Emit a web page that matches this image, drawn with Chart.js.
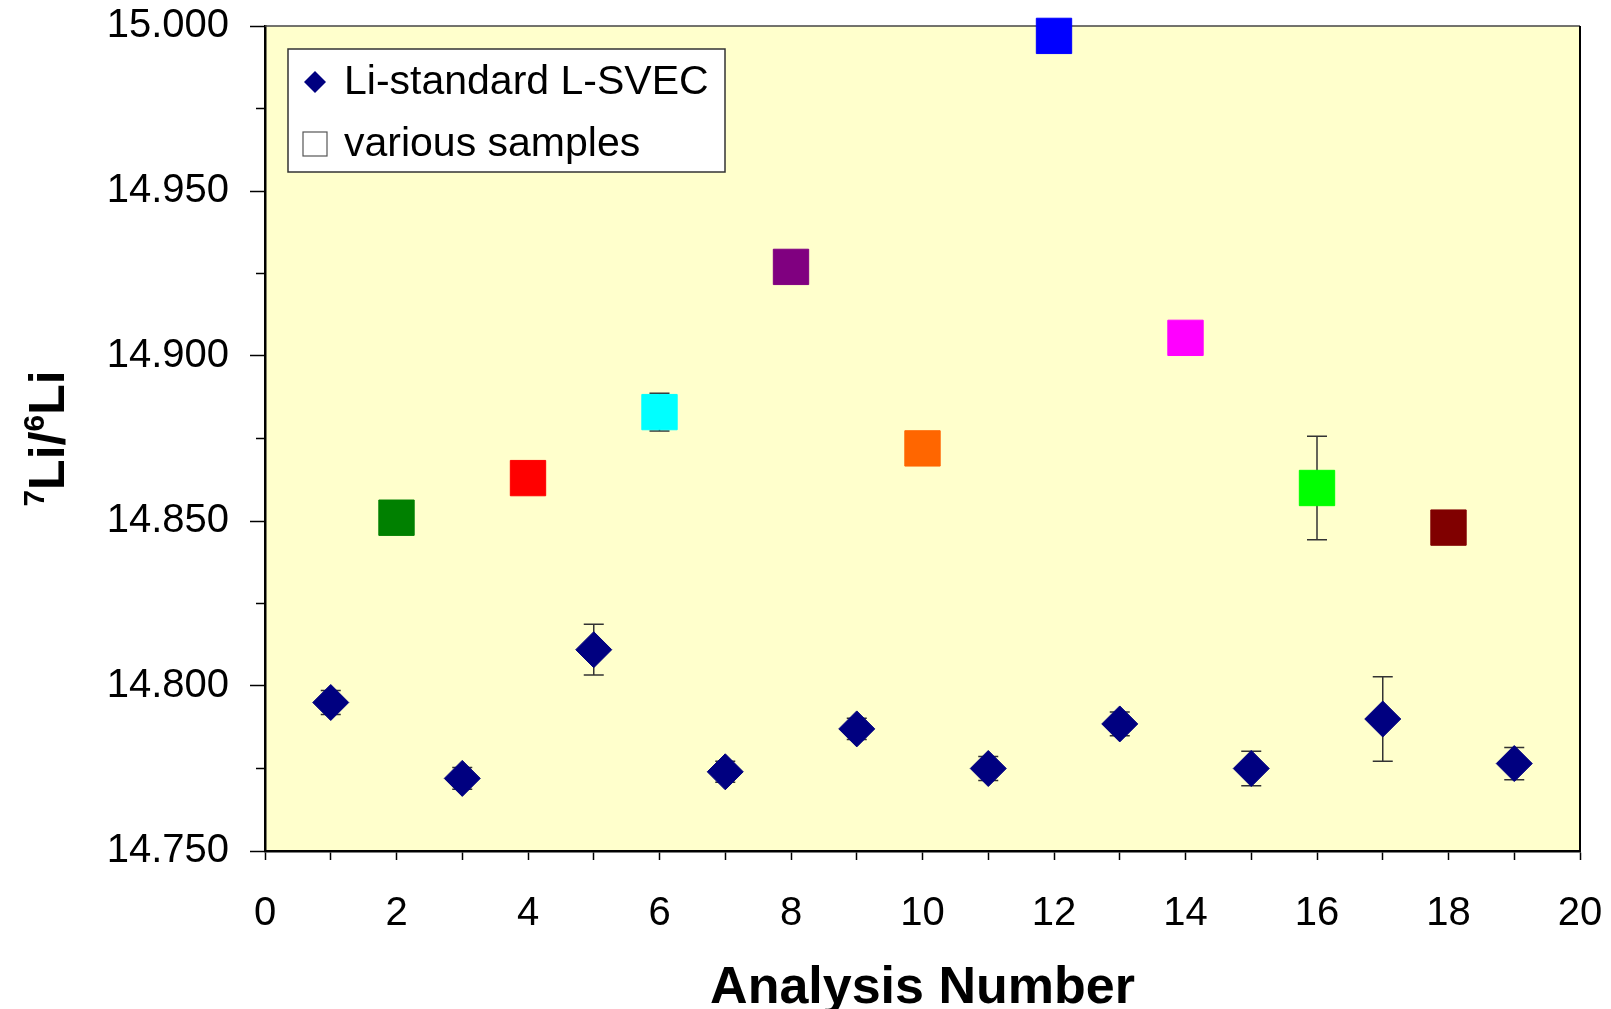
<!DOCTYPE html>
<html>
<head>
<meta charset="utf-8">
<script src="https://cdn.jsdelivr.net/npm/chart.js@4/dist/chart.umd.min.js"></script>
<style>
  html, body { margin: 0; padding: 0; background: #ffffff; }
  canvas { display: block; }
</style>
</head>
<body>
<canvas id="chart" width="1611" height="1009"></canvas>
<script>
// Li-standard L-SVEC runs (odd analysis numbers)
const standardX   = [1, 3, 5, 7, 9, 11, 13, 15, 17, 19];
const standardY   = [14.795, 14.772, 14.811, 14.774, 14.787, 14.775, 14.7885, 14.775, 14.790, 14.7765];
const standardErr = [0.0036, 0.0033, 0.0077, 0.0032, 0.0032, 0.0036, 0.0036, 0.0052, 0.0128, 0.0049];

// Various samples (even analysis numbers)
const sampleX     = [2, 4, 6, 8, 10, 12, 14, 16, 18];
const sampleY     = [14.851, 14.863, 14.883, 14.927, 14.872, 14.997, 14.9055, 14.860, 14.848];
const sampleErr   = [0, 0, 0.0057, 0, 0, 0, 0, 0.0157, 0];
const sampleColors = ['#008000', '#FF0000', '#00FFFF', '#800080', '#FF6600', '#0000FF', '#FF00FF', '#00FF00', '#800000'];

const legendLabels = ['Li-standard L-SVEC', 'various samples'];
const xTitle = 'Analysis Number';
// y title pieces: [text, superscript?]
const yTitleParts = [['7', true], ['Li/', false], ['6', true], ['Li', false]];

const FONT = '"Liberation Sans", Arial, Helvetica, sans-serif';
const NAVY = '#000080';

// Plot background
const plotBackground = {
  id: 'plotBackground',
  beforeDraw(chart) {
    const { ctx, chartArea: a } = chart;
    ctx.save();
    ctx.fillStyle = '#FFFFCC';
    ctx.fillRect(a.left, a.top, a.right - a.left, a.bottom - a.top);
    ctx.restore();
  }
};

// Frame, minor ticks and error bars, drawn under the markers
const underlay = {
  id: 'underlay',
  beforeDatasetsDraw(chart) {
    const { ctx, chartArea: a, scales } = chart;
    ctx.save();
    // top and right frame
    ctx.strokeStyle = '#444444';
    ctx.lineWidth = 1.5;
    ctx.beginPath();
    ctx.moveTo(a.left, a.top);
    ctx.lineTo(a.right, a.top);
    ctx.stroke();
    ctx.strokeStyle = '#000000';
    ctx.lineWidth = 2;
    ctx.beginPath();
    ctx.moveTo(a.right, a.top);
    ctx.lineTo(a.right, a.bottom);
    ctx.stroke();

    // minor y ticks halfway between labelled ticks
    const yt = scales.y.ticks;
    ctx.strokeStyle = '#000000';
    ctx.lineWidth = 1.5;
    for (let i = 0; i < yt.length - 1; i++) {
      const py = scales.y.getPixelForValue((yt[i].value + yt[i + 1].value) / 2);
      ctx.beginPath();
      ctx.moveTo(a.left - 9, py);
      ctx.lineTo(a.left, py);
      ctx.stroke();
    }

    // error bars
    ctx.strokeStyle = '#333333';
    ctx.lineWidth = 1.5;
    chart.data.datasets.forEach((ds, di) => {
      const meta = chart.getDatasetMeta(di);
      meta.data.forEach((pt, i) => {
        const err = ds.errors[i];
        if (!err) return;
        const v = ds.data[i].y;
        const yTop = scales.y.getPixelForValue(v + err);
        const yBot = scales.y.getPixelForValue(v - err);
        const x = pt.x;
        ctx.beginPath();
        ctx.moveTo(x, yTop); ctx.lineTo(x, yBot);
        ctx.moveTo(x - 10, yTop); ctx.lineTo(x + 10, yTop);
        ctx.moveTo(x - 10, yBot); ctx.lineTo(x + 10, yBot);
        ctx.stroke();
      });
    });
    ctx.restore();
  }
};

// Legend box in the upper left of the plot, and the y-axis title with superscripts
const overlay = {
  id: 'overlay',
  afterDraw(chart) {
    const { ctx, chartArea: a } = chart;
    ctx.save();
    const bx = a.left + 23, by = a.top + 23, bw = 437, bh = 123;
    ctx.fillStyle = '#FFFFFF';
    ctx.fillRect(bx, by, bw, bh);
    ctx.strokeStyle = '#333333';
    ctx.lineWidth = 1.5;
    ctx.strokeRect(bx, by, bw, bh);

    // diamond key
    const dx = bx + 27, dy = by + 33, dr = 11;
    ctx.fillStyle = NAVY;
    ctx.beginPath();
    ctx.moveTo(dx - dr, dy); ctx.lineTo(dx, dy - dr); ctx.lineTo(dx + dr, dy); ctx.lineTo(dx, dy + dr);
    ctx.closePath();
    ctx.fill();

    // open square key
    ctx.fillStyle = '#FFFFFF';
    ctx.fillRect(bx + 15, by + 83, 24, 24);
    ctx.strokeStyle = '#555555';
    ctx.lineWidth = 1.2;
    ctx.strokeRect(bx + 15, by + 83, 24, 24);

    ctx.fillStyle = '#000000';
    ctx.font = '41px ' + FONT;
    ctx.textAlign = 'left';
    ctx.textBaseline = 'middle';
    ctx.fillText(legendLabels[0], bx + 56, by + 34);
    ctx.fillText(legendLabels[1], bx + 56, by + 96);

    // y-axis title
    ctx.translate(64, (a.top + a.bottom) / 2);
    ctx.rotate(-Math.PI / 2);
    ctx.textBaseline = 'alphabetic';
    const fontFor = sup => 'bold ' + (sup ? 30 : 50) + 'px ' + FONT;
    let total = 0;
    yTitleParts.forEach(([t, sup]) => { ctx.font = fontFor(sup); total += ctx.measureText(t).width; });
    let x = -total / 2;
    yTitleParts.forEach(([t, sup]) => {
      ctx.font = fontFor(sup);
      ctx.fillText(t, x, sup ? -20 : 0);
      x += ctx.measureText(t).width;
    });
    ctx.restore();
  }
};

const toPoints = (xs, ys) => xs.map((x, i) => ({ x: x, y: ys[i] }));

new Chart(document.getElementById('chart'), {
  type: 'scatter',
  data: {
    datasets: [
      {
        label: legendLabels[0],
        data: toPoints(standardX, standardY),
        errors: standardErr,
        pointStyle: 'rectRot',
        pointRadius: 18,
        pointHoverRadius: 18,
        pointBackgroundColor: NAVY,
        pointBorderColor: NAVY,
        pointBorderWidth: 1,
        showLine: false,
        clip: false
      },
      {
        label: legendLabels[1],
        data: toPoints(sampleX, sampleY),
        errors: sampleErr,
        pointStyle: 'rect',
        pointRadius: 25,
        pointHoverRadius: 25,
        pointBackgroundColor: sampleColors,
        pointBorderColor: sampleColors,
        pointBorderWidth: 1,
        showLine: false,
        clip: false
      }
    ]
  },
  options: {
    responsive: false,
    animation: false,
    events: [],
    layout: { padding: { left: 0, top: 26, right: 31, bottom: 0 } },
    plugins: {
      legend: { display: false },
      tooltip: { enabled: false }
    },
    scales: {
      x: {
        type: 'linear',
        min: 0,
        max: 20,
        afterFit(scale) {
          scale.height = 158;
          scale.paddingLeft = 0;
          scale.paddingRight = 0;
        },
        border: { display: true, color: '#000000', width: 2.5 },
        grid: {
          display: true,
          drawOnChartArea: false,
          drawTicks: true,
          tickLength: 9,
          tickColor: '#000000',
          tickWidth: 1.5
        },
        ticks: {
          stepSize: 1,
          autoSkip: false,
          maxRotation: 0,
          padding: 30,
          color: '#000000',
          font: { family: FONT, size: 40 },
          callback: v => (v % 2 === 0 ? String(v) : '')
        },
        title: {
          display: true,
          text: xTitle,
          color: '#000000',
          font: { family: FONT, size: 52, weight: 'bold', lineHeight: 0.8 },
          padding: { top: 0, bottom: 0 }
        }
      },
      y: {
        type: 'linear',
        min: 14.75,
        max: 15.0,
        afterFit(scale) {
          scale.width = 265;
          scale.paddingTop = 0;
          scale.paddingBottom = 0;
        },
        border: { display: true, color: '#000000', width: 2.5 },
        grid: {
          display: true,
          drawOnChartArea: false,
          drawTicks: true,
          tickLength: 15,
          tickColor: '#000000',
          tickWidth: 1.5
        },
        ticks: {
          stepSize: 0.05,
          padding: 21,
          color: '#000000',
          font: { family: FONT, size: 40 },
          callback: v => Number(v).toFixed(3)
        },
        title: { display: false }
      }
    }
  },
  plugins: [plotBackground, underlay, overlay]
});
</script>
</body>
</html>
